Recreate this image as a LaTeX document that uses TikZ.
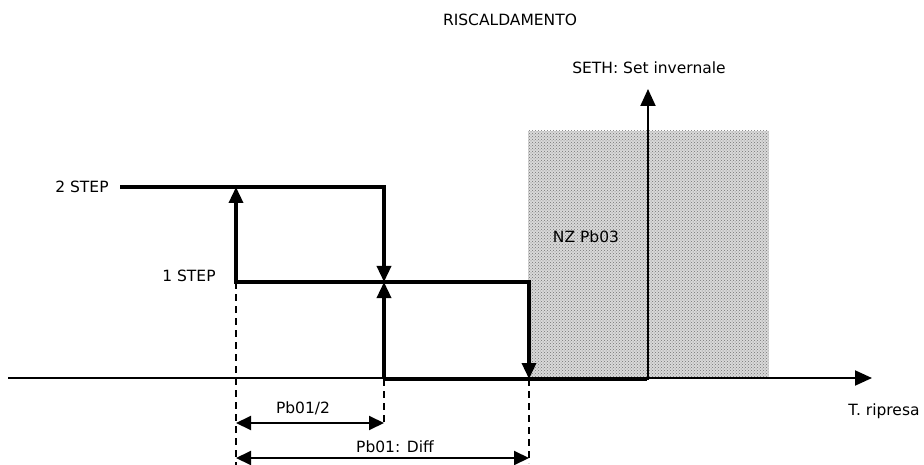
\documentclass[tikz,border=0pt]{standalone}
\usepackage{fontspec}
\setmainfont{DejaVu Sans}
\usepackage{tikz}
\usetikzlibrary{arrows.meta, patterns}

\begin{document}
\begin{tikzpicture}[x=1pt, y=-1pt,
		lbl/.style={font=\fontsize{15.5}{18}\selectfont, inner sep=1pt},
		bigtip/.tip={Triangle[length=16pt, width=14pt]},
		steparr/.style={line width=3.4pt, bigtip-bigtip},
		stepto/.style={line width=3.4pt, -bigtip},
		stepline/.style={line width=3.4pt},
		axis/.style={line width=2pt, -{Triangle[length=17pt, width=15pt]}},
		dim/.style={line width=2pt, {Triangle[length=15pt, width=14pt]}-{Triangle[length=15pt, width=14pt]}},
		guide/.style={line width=2pt, dash pattern=on 7pt off 5pt},
		zone/.style={fill=gray!30, postaction={pattern=crosshatch dots, pattern color=black!55}}]
	\useasboundingbox (0,0) rectangle (924,465);
	% zona neutra
	\path[zone] (528,131) rectangle (769,378);
	% punti del grafico
	\coordinate (o) at (8,378);
	\coordinate (xend) at (872,378);
	\coordinate (ytop) at (648,89);
	\coordinate (s2) at (120,187);
	\coordinate (a2) at (236,187);
	\coordinate (c2) at (384,187);
	\coordinate (a1) at (236,282);
	\coordinate (m1) at (384,282);
	\coordinate (e1) at (529,282);
	\coordinate (b0) at (384,379);
	\coordinate (e0) at (529,379);
	\coordinate (f0) at (647,379);
	\coordinate (ybase) at (648,380);
	\foreach \n/\x/\y in {v1/236/465, v2/384/426, v3/529/463, d1l/236/423, d1r/384/423, d2l/236/458, d2r/529/458}{
		\coordinate (\n) at (\x,\y);
	}
	% assi
	\draw[axis] (o) -- (xend);
	\draw[axis] (ybase) -- (ytop);
	% gradini
	\draw[stepto] (s2) -- (c2) -- (m1);
	\draw[steparr] (a2) -- (a1) -- (e1) -- (e0);
	\draw[stepto] (b0) -- (m1);
	\draw[stepline] (b0) -- (f0);
	% quote
	\draw[guide] (a1) -- (v1);
	\draw[guide] (b0) -- (v2);
	\draw[guide] (e0) -- (v3);
	\draw[dim] (d1l) -- (d1r);
	\draw[dim] (d2l) -- (d2r);
	% testi
	\node[lbl] (title) at (510,20) {RISCALDAMENTO};
	\node[lbl] (seth) at (649,68) {SETH: Set invernale};
	\node[lbl] (step2) at (82,187) {2 STEP};
	\node[lbl] (step1) at (189,276) {1 STEP};
	\node[lbl] (nz) at (586,237) {NZ Pb03};
	\node[lbl] (half) at (303,408) {Pb01/2};
	\node[lbl] (diff) at (395,447) {Pb01: Diff};
	\node[lbl] (trip) at (884,411) {T. ripresa};
\end{tikzpicture}
\end{document}
